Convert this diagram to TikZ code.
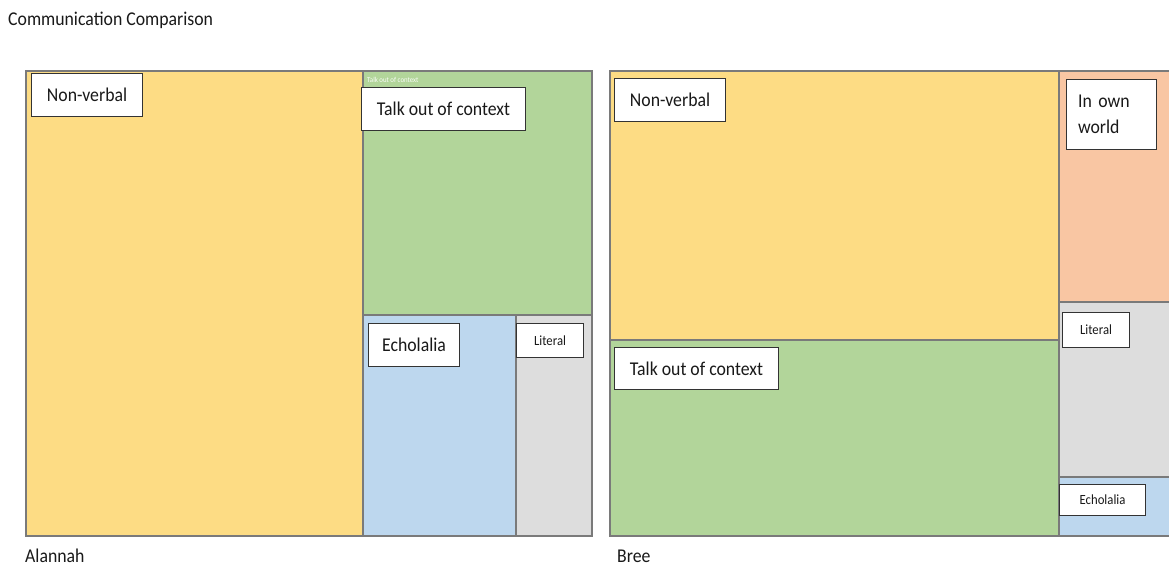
\documentclass[tikz,border=0pt]{standalone}
\usepackage{fontspec}
\setmainfont{Carlito}[FakeStretch=0.91]
\definecolor{cyel}{HTML}{FDDC84}
\definecolor{cgrn}{HTML}{B2D59A}
\definecolor{cblu}{HTML}{BDD7EE}
\definecolor{cgry}{HTML}{DDDDDD}
\definecolor{corg}{HTML}{F9C6A3}
\definecolor{cedge}{HTML}{7A7A7A}
\tikzset{
  tile/.style={draw=cedge, line width=1.6pt},
  lbl/.style={draw=black!80, fill=white, line width=1.1pt, inner sep=0pt, font=\fontsize{19.5}{26}\selectfont, text=black!90},
  slbl/.style={lbl, font=\fontsize{14}{16}\selectfont},
  captext/.style={anchor=west, inner sep=0pt, font=\fontsize{19.5}{22}\selectfont, text=black!90},
}
\begin{document}
\begin{tikzpicture}[x=1pt,y=-1pt]
\useasboundingbox (0,0) rectangle (1169,567);
\fill[white] (0,0) rectangle (1169,567);
\node[captext] (title) at (8,20) {Communication Comparison};
% Alannah treemap
\draw[tile, fill=cyel] (26,71) rectangle (363,536);
\draw[tile, fill=cgrn] (363,71) rectangle (592,315);
\draw[tile, fill=cblu] (363,315) rectangle (516,536);
\draw[tile, fill=cgry] (516,315) rectangle (592,536);
\node[anchor=west, inner sep=0pt, text=white!92!cgrn, font=\fontsize{7.5}{8}\selectfont] (tiny) at (367,80) {Talk out of context};
\node[lbl, minimum width=111pt, minimum height=43pt, anchor=north west] (a1) at (31,73) {Non-verbal};
\node[lbl, minimum width=164pt, minimum height=43pt, anchor=north west] (a2) at (361,87) {Talk out of context};
\node[lbl, minimum width=91pt, minimum height=43pt, anchor=north west] (a3) at (368,323) {Echolalia};
\node[slbl, minimum width=67pt, minimum height=34pt, anchor=north west] (a4) at (516,323) {Literal};
\node[captext] (alannah) at (25,556) {Alannah};
% Bree treemap
\begin{scope}
\clip (600,60) rectangle (1169,545);
\draw[tile, fill=cyel] (610,71) rectangle (1059,340);
\draw[tile, fill=cgrn] (610,340) rectangle (1059,536);
\draw[tile, fill=corg] (1059,71) rectangle (1175,302);
\draw[tile, fill=cgry] (1059,302) rectangle (1175,477);
\draw[tile, fill=cblu] (1059,477) rectangle (1175,536);
\end{scope}
\node[lbl, minimum width=111pt, minimum height=43pt, anchor=north west] (b1) at (614,78) {Non-verbal};
\node[lbl, minimum width=164pt, minimum height=42pt, anchor=north west] (b2) at (614,347) {Talk out of context};
\node[lbl, minimum width=90pt, minimum height=70pt, anchor=north west, align=left, text width=67pt, inner xsep=11.5pt] (b3) at (1066,79) {In own\\world};
\node[slbl, minimum width=67pt, minimum height=35pt, anchor=north west] (b4) at (1062,312) {Literal};
\node[slbl, minimum width=86pt, minimum height=31pt, anchor=north west] (b5) at (1059,484) {Echolalia};
\node[captext] (bree) at (617,556) {Bree};
\end{tikzpicture}
\end{document}
